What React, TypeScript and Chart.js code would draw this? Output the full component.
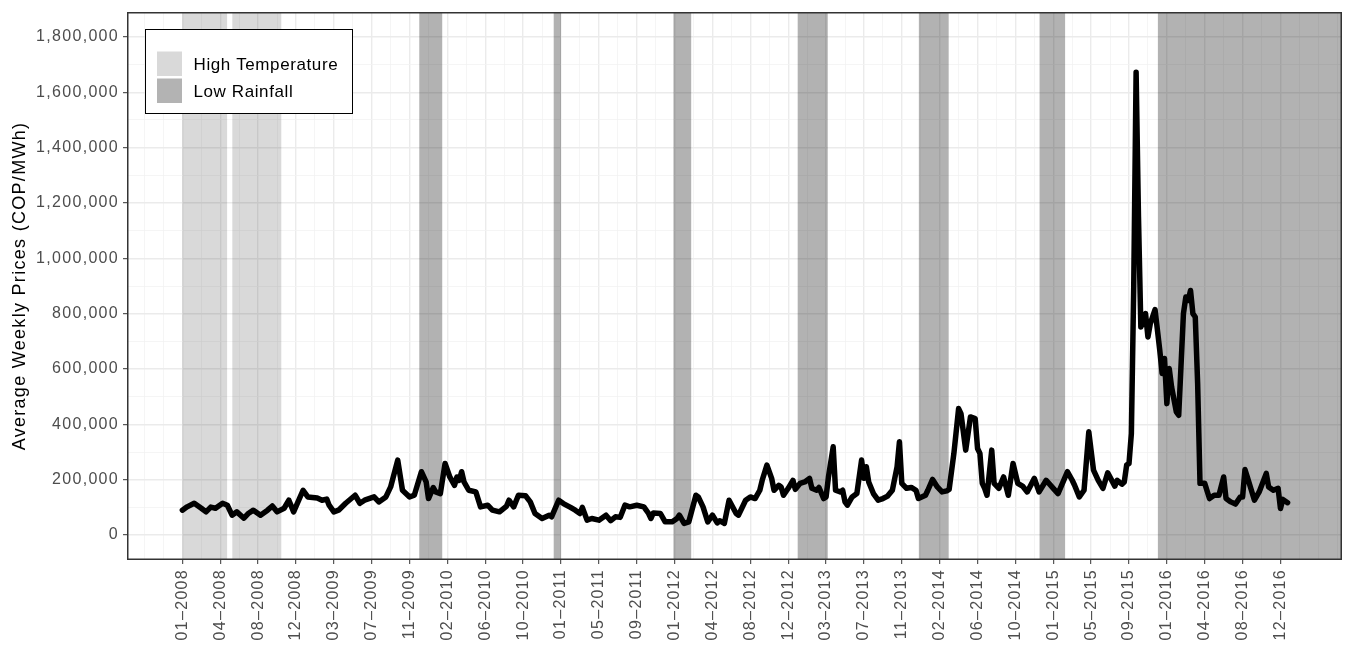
import React, { useEffect, useRef } from 'react';
import { Chart, registerables } from 'chart.js';

Chart.register(...registerables);

// ---- Data (week index counted from the first week of 01-2008; prices in thousands of COP/MWh) ----
const weeks = [
  // 2008-2009
  0, 2, 5, 8, 10, 12, 14, 17, 19, 21, 23, 26, 28, 30, 33, 36, 38, 40, 43, 45,
  47, 51, 53, 57, 59, 61, 62, 64, 66, 69, 73, 75, 77, 81, 83, 86, 88, 91, 93, 96,
  // 2009-2012
  98, 101, 103, 104, 106, 107, 109, 111, 113, 115, 116, 117, 118, 119, 121, 124, 126, 129, 131, 134,
  137, 138, 140, 142, 145, 147, 149, 152, 155, 156, 159, 161, 164, 166, 168, 169, 171, 173, 176, 179,
  181, 183, 185, 187, 189, 192, 195, 197, 198, 199, 202, 204, 207, 209,
  // 2012-2014
  210, 212, 214, 217, 218, 220, 222, 224, 226, 227, 229, 231, 234, 235, 238, 240, 242, 244, 245, 247,
  249, 250, 252, 253, 254, 256, 258, 259, 261, 263, 265, 266, 268, 269, 271, 272, 273, 275, 276, 278,
  279, 280, 281, 283, 285, 287, 288, 289, 290, 292, 294, 296, 298, 300, 302, 303, 304, 306, 308, 310,
  311, 314, 315, 317, 319, 321, 323,
  // 2014-2015
  324, 326, 328, 329, 331, 333, 335, 336, 337, 338, 339, 340, 342, 343, 345, 347, 349, 351, 353, 355,
  357, 360, 362, 365, 368, 370, 374, 376, 377, 379, 381, 383, 385, 387,
  // 2015-2016
  389, 391, 394, 395, 397, 398, 399, 400, 401, 402, 403, 404, 405, 407, 408, 409, 411, 413, 414, 415,
  416, 417, 418, 420, 421, 423, 424, 425, 426, 427, 428, 429, 430, 432, 434, 436, 438, 440, 441, 443,
  445, 447, 448, 449, 450, 453, 455, 458, 459, 461, 463, 464, 465, 467,
];

const pricesK = [
  // 2008-2009
  90, 102, 115, 97, 84, 101, 97, 115, 108, 72, 84, 61, 79, 90, 72, 90, 105, 84, 97, 126,
  84, 162, 138, 134, 126, 130, 108, 84, 90, 115, 144, 115, 126, 138, 120, 138, 174, 271, 162, 138,
  // 2009-2012
  144, 229, 192, 132, 172, 156, 150, 259, 210, 180, 210, 198, 229, 192, 162, 156, 102, 108, 90, 84,
  105, 126, 102, 144, 142, 120, 78, 60, 72, 66, 126, 114, 100, 90, 78, 100, 54, 60, 54, 72,
  52, 66, 64, 108, 102, 108, 102, 78, 60, 80, 78, 48, 48, 60,
  // 2012-2014
  72, 42, 48, 144, 138, 102, 48, 72, 44, 52, 42, 126, 78, 72, 126, 138, 132, 162, 198, 253,
  205, 162, 180, 174, 144, 169, 198, 165, 187, 192, 205, 169, 162, 172, 132, 138, 210, 319, 162, 156,
  162, 120, 108, 138, 150, 271, 205, 247, 192, 150, 126, 132, 141, 162, 247, 337, 187, 169, 172, 162,
  132, 144, 162, 201, 174, 156, 160,
  // 2014-2015
  165, 295, 457, 439, 307, 427, 421, 313, 295, 187, 169, 144, 307, 187, 169, 210, 144, 259, 187, 177,
  156, 205, 156, 198, 169, 150, 229, 198, 180, 138, 162, 373, 235, 198,
  // 2015-2016
  169, 225, 177, 198, 184, 192, 253, 259, 367, 900, 1672, 1150, 752, 800, 716, 764, 815, 668, 584, 638,
  475, 602, 535, 445, 433, 800, 860, 848, 884, 800, 788, 548, 187, 187, 132, 144, 144, 210, 132, 120,
  112, 138, 138, 237, 210, 126, 156, 223, 174, 162, 169, 96, 129, 117,
];

// Shaded periods (week index)
const highTempStart = [0, 21.1];
const highTempEnd = [18.9, 41.8];
const lowRainStart = [100.1, 156.9, 207.5, 260.0, 311.2, 362.2, 412.2];
const lowRainEnd = [109.8, 160.0, 215.0, 272.7, 323.8, 373.0, Infinity];

// X tick labels, one every 16 weeks starting at week 0
const tickLabels = [
  '01–2008', '04–2008', '08–2008', '12–2008', '03–2009', '07–2009', '11–2009', '02–2010',
  '06–2010', '10–2010', '01–2011', '05–2011', '09–2011', '01–2012', '04–2012', '08–2012',
  '12–2012', '03–2013', '07–2013', '11–2013', '02–2014', '06–2014', '10–2014', '01–2015',
  '05–2015', '09–2015', '01–2016', '04–2016', '08–2016', '12–2016',
];
const tickStepWeeks = 16;

const legendLabels = ['High Temperature', 'Low Rainfall'];
const legendColors = ['#d9d9d9', '#b3b3b3'];

const FONT = '"Liberation Sans", Arial, Helvetica, sans-serif';
const LETTER_SPACING = '1.3px';

const lastMajorX = (tickLabels.length - 1) * tickStepWeeks;
const isMajorX = (v: number) => v >= 0 && v <= lastMajorX && v % tickStepWeeks === 0;
const isMajorY = (v: number) => v % 200000 === 0;

const spacingPlugin = {
  id: 'spacing',
  beforeUpdate(chart: any) {
    chart.ctx.letterSpacing = LETTER_SPACING;
  },
  beforeDraw(chart: any) {
    chart.ctx.letterSpacing = LETTER_SPACING;
  },
};

const bandsPlugin = {
  id: 'bands',
  beforeDatasetsDraw(chart: any) {
    const { ctx, chartArea: a, scales } = chart;
    const x = scales.x;
    const clampX = (p: number) => Math.min(Math.max(p, a.left), a.right);
    ctx.save();
    ctx.beginPath();
    ctx.rect(a.left, a.top, a.right - a.left, a.bottom - a.top);
    ctx.clip();
    const drawSet = (starts: number[], ends: number[], color: string) => {
      ctx.fillStyle = color;
      for (let i = 0; i < starts.length; i++) {
        const x1 = clampX(x.getPixelForValue(starts[i]));
        const x2 = Number.isFinite(ends[i]) ? clampX(x.getPixelForValue(ends[i])) : a.right;
        ctx.fillRect(x1, a.top, x2 - x1, a.bottom - a.top);
      }
    };
    drawSet(highTempStart, highTempEnd, 'rgba(0,0,0,0.15)');
    drawSet(lowRainStart, lowRainEnd, 'rgba(0,0,0,0.30)');
    ctx.restore();
  },
};

const framePlugin = {
  id: 'frame',
  afterDraw(chart: any) {
    const { ctx, chartArea: a } = chart;
    ctx.save();
    // panel border
    ctx.strokeStyle = '#333333';
    ctx.lineWidth = 1.5;
    ctx.strokeRect(a.left + 0.75, a.top + 0.75, a.right - a.left - 1.5, a.bottom - a.top - 1.5);
    // legend box
    const bx = a.left + 18.5;
    const by = a.top + 17.5;
    const bw = 207;
    const bh = 84;
    ctx.fillStyle = '#ffffff';
    ctx.fillRect(bx, by, bw, bh);
    ctx.strokeStyle = '#000000';
    ctx.lineWidth = 1;
    ctx.strokeRect(bx, by, bw, bh);
    ctx.letterSpacing = '0.6px';
    ctx.font = `17px ${FONT}`;
    ctx.textAlign = 'left';
    ctx.textBaseline = 'alphabetic';
    const rows = [22, 49];
    for (let i = 0; i < legendLabels.length; i++) {
      const sy = by + rows[i];
      ctx.fillStyle = legendColors[i];
      ctx.fillRect(bx + 11.5, sy, 25, 24.5);
      ctx.fillStyle = '#000000';
      ctx.fillText(legendLabels[i], bx + 48, sy + 12.25 + 6.2);
    }
    ctx.restore();
  },
};

export default function App() {
  const canvasRef = useRef<HTMLCanvasElement | null>(null);

  useEffect(() => {
    if (!canvasRef.current) return;
    Chart.defaults.font.family = FONT;

    const yGrid: number[] = [];
    for (let v = 0; v <= 1800000; v += 100000) yGrid.push(v);
    const xGrid: number[] = [];
    for (let w = -tickStepWeeks; w <= 488; w += tickStepWeeks / 2) xGrid.push(w);

    const points = weeks.map((w, i) => ({ x: w, y: pricesK[i] * 1000 }));

    const chart = new Chart(canvasRef.current, {
      type: 'line',
      data: {
        datasets: [
          {
            label: 'Average Weekly Price',
            data: points,
            borderColor: '#000000',
            borderWidth: 5.5,
            pointRadius: 0,
            tension: 0,
            fill: false,
            borderJoinStyle: 'round',
            borderCapStyle: 'round',
          },
        ],
      },
      options: {
        responsive: false,
        devicePixelRatio: 1,
        animation: false,
        layout: { padding: { top: 4, left: 0, right: 0, bottom: 0 } },
        plugins: {
          legend: { display: false },
          tooltip: { enabled: false },
        },
        scales: {
          x: {
            type: 'linear',
            min: -23.4,
            max: 490,
            afterBuildTicks: (s: any) => {
              s.ticks = xGrid.map((v) => ({ value: v }));
            },
            afterFit: (s: any) => {
              s.height = 80;
              s.paddingLeft = 0;
              s.paddingRight = 0;
            },
            border: { display: false },
            grid: {
              color: (c: any) => (c.tick && isMajorX(c.tick.value) ? '#ebebeb' : '#f3f3f3'),
              lineWidth: (c: any) => (c.tick && isMajorX(c.tick.value) ? 1.4 : 0.8),
              tickLength: 4,
              tickWidth: 1,
              tickColor: (c: any) => (c.tick && isMajorX(c.tick.value) ? '#333333' : 'rgba(0,0,0,0)'),
            },
            ticks: {
              autoSkip: false,
              minRotation: 90,
              maxRotation: 90,
              padding: 5,
              color: '#4d4d4d',
              font: { size: 16 },
              callback: (v: any) => (isMajorX(Number(v)) ? tickLabels[Number(v) / tickStepWeeks] : ''),
            },
          },
          y: {
            type: 'linear',
            min: -90000,
            max: 1890000,
            afterBuildTicks: (s: any) => {
              s.ticks = yGrid.map((v) => ({ value: v }));
            },
            afterFit: (s: any) => {
              s.width = 119;
              s.paddingTop = 0;
              s.paddingBottom = 0;
            },
            border: { display: false },
            grid: {
              color: (c: any) => (c.tick && isMajorY(c.tick.value) ? '#ebebeb' : '#f3f3f3'),
              lineWidth: (c: any) => (c.tick && isMajorY(c.tick.value) ? 1.4 : 0.8),
              tickLength: 4,
              tickWidth: 1,
              tickColor: (c: any) => (c.tick && isMajorY(c.tick.value) ? '#333333' : 'rgba(0,0,0,0)'),
            },
            ticks: {
              autoSkip: false,
              padding: 4,
              color: '#4d4d4d',
              font: { size: 16 },
              callback: (v: any) => (isMajorY(Number(v)) ? Number(v).toLocaleString('en-US') : ''),
            },
            title: {
              display: true,
              text: 'Average Weekly Prices (COP/MWh)',
              color: '#000000',
              font: { size: 18 },
              padding: { top: 1, bottom: 0 },
            },
          },
        },
      },
      plugins: [spacingPlugin, bandsPlugin, framePlugin],
    } as any);

    return () => chart.destroy();
  }, []);

  return (
    <div style={{ width: 1334, height: 632 }}>
      <canvas ref={canvasRef} width={1334} height={632} style={{ display: 'block' }} />
    </div>
  );
}
